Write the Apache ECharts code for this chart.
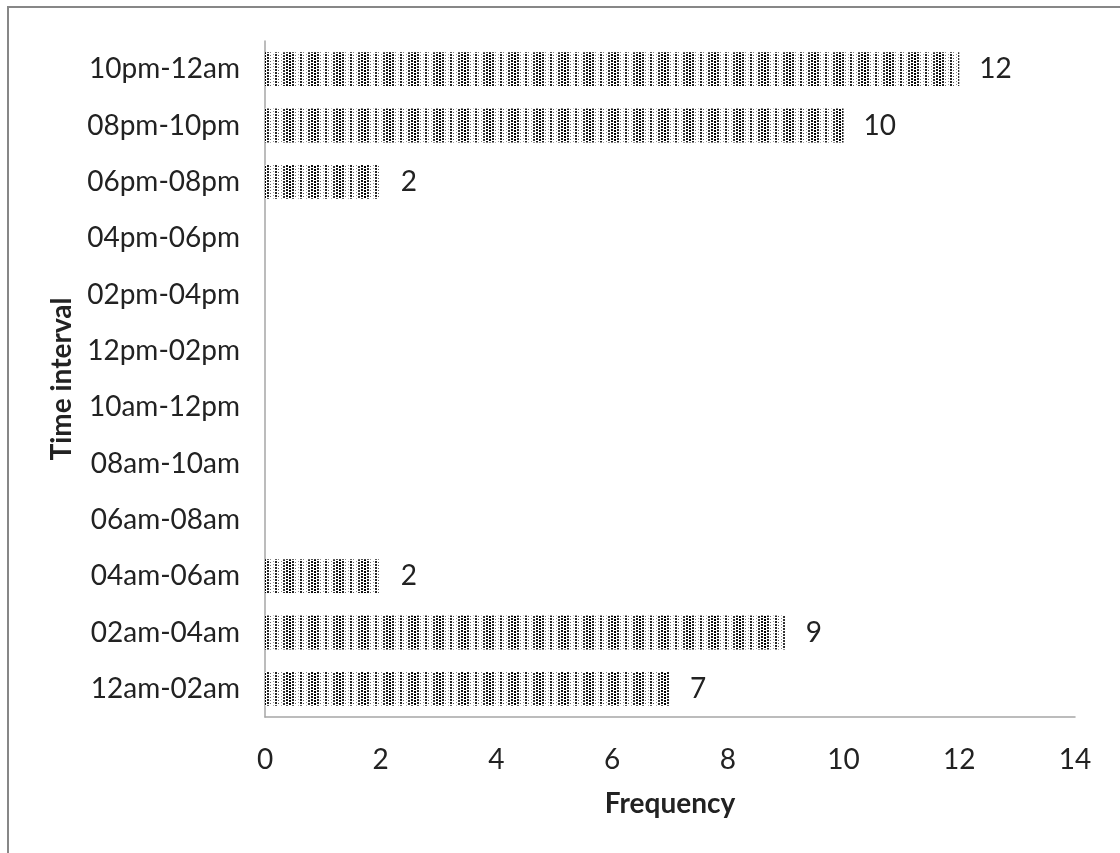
<!DOCTYPE html>
<html>
<head>
<meta charset="utf-8">
<script src="https://cdn.jsdelivr.net/npm/echarts@6/dist/echarts.min.js"></script>
<style>
html,body{margin:0;padding:0;background:#fff;}
#chart{width:1120px;height:853px;}
</style>
</head>
<body>
<div id="chart"></div>
<script>
const categories = ['12am-02am','02am-04am','04am-06am','06am-08am','08am-10am','10am-12pm','12pm-02pm','02pm-04pm','04pm-06pm','06pm-08pm','08pm-10pm','10pm-12am'];
const frequency = [7, 9, 2, null, null, null, null, null, null, 2, 10, 12];
const xTicks = [0, 2, 4, 6, 8, 10, 12, 14];

function makePattern() {
  const c = document.createElement('canvas');
  c.width = 25; c.height = 6;
  const ctx = c.getContext('2d');
  ctx.fillStyle = '#fff';
  ctx.fillRect(0, 0, 25, 6);
  const cols = [
    [0, 2, '#222', 0], [3, 1, '#555', 1], [6, 1, '#888', 0], [8, 2, '#333', 1],
    [11, 2, '#111', 0], [14, 2, '#000', 1], [17, 2, '#222', 0], [20, 1, '#666', 1], [23, 1, '#999', 0]
  ];
  cols.forEach(([x, s, shade, off]) => {
    ctx.fillStyle = shade;
    for (let y = off; y < 6; y += 3) ctx.fillRect(x, y, s, s);
  });
  return c;
}

const font = 'Lato, "Open Sans", sans-serif';
const chart = echarts.init(document.getElementById('chart'));
chart.setOption({
  animation: false,
  backgroundColor: '#fff',
  graphic: [
    { type: 'rect', shape: { x: 8, y: 7, width: 1120, height: 860 }, style: { fill: 'none', stroke: '#878787', lineWidth: 2 } }
  ],
  grid: { left: 265, right: 45, top: 41, bottom: 136, containLabel: false },
  xAxis: {
    type: 'value', min: 0, max: 14, interval: 2,
    name: 'Frequency', nameLocation: 'middle', nameGap: 73,
    nameTextStyle: { fontFamily: font, fontSize: 28, fontWeight: 'bold', color: '#222' },
    axisLine: { show: true, lineStyle: { color: '#a6a6a6', width: 1.5 } },
    axisTick: { show: false },
    splitLine: { show: false },
    axisLabel: { fontFamily: font, fontSize: 28, color: '#222', margin: 29,
      formatter: v => xTicks.includes(v) ? String(v) : '' }
  },
  yAxis: {
    type: 'category', data: categories,
    name: 'Time interval', nameLocation: 'middle', nameGap: 186, nameRotate: 90,
    nameTextStyle: { fontFamily: font, fontSize: 28, fontWeight: 'bold', color: '#222' },
    axisLine: { show: true, lineStyle: { color: '#a6a6a6', width: 1.5 } },
    axisTick: { show: false },
    axisLabel: { fontFamily: font, fontSize: 28, color: '#222', margin: 25 }
  },
  series: [{
    type: 'bar',
    data: frequency,
    barWidth: '60%',
    itemStyle: { color: { image: makePattern(), repeat: 'repeat' } },
    label: { show: true, position: 'right', distance: 20, fontFamily: font, fontSize: 28, color: '#222' }
  }]
});
</script>
</body>
</html>
